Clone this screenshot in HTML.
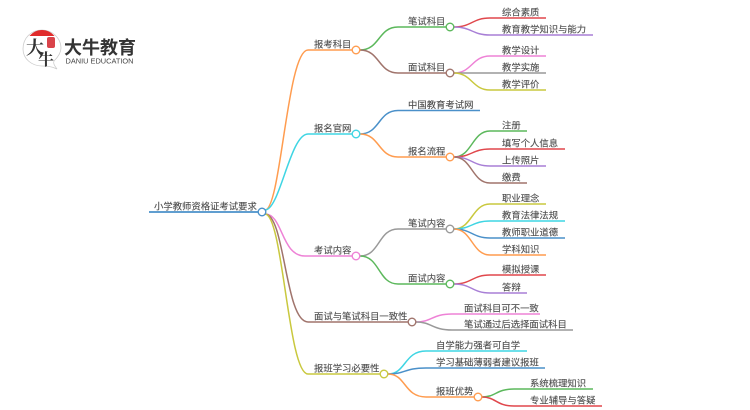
<!DOCTYPE html>
<html><head><meta charset="utf-8">
<style>
html,body{margin:0;padding:0;background:#fff;width:750px;height:410px;overflow:hidden}
svg{display:block}
text{font-family:"Liberation Sans","Noto Sans CJK SC",sans-serif;font-size:9.36px;fill:#4d4d4d;stroke:#4d4d4d;stroke-width:.12px}
path{fill:none;stroke-width:1.5}
circle{fill:#fff;stroke-width:1.4}
</style></head><body>
<svg width="750" height="410" viewBox="0 0 750 410" xmlns="http://www.w3.org/2000/svg">
<!-- logo -->
<path d="M42 30 C31 30 23 38 23 49 C23 59 32 66 42 66 C46 66 51 66 57 69 C54 65 53 63 54 61 C58 57 61 53 61 48 C61 38 52 30 42 30Z" style="stroke:#ccc;stroke-width:.8;fill:#fff"/>
<path d="M29.500 36 C33 32 37 30 42 30 C47 30 51 32 54.500 36Z" style="fill:#e02b2b;stroke:none"/>
<rect x="47" y="37" width="8" height="11" rx="2" fill="#d9434a"/>
<text x="26" y="54" style="font-family:'Noto Serif CJK SC',serif;font-size:18px;font-weight:700;fill:#333;stroke:none">大</text>
<text x="38" y="65" style="font-family:'Noto Serif CJK SC',serif;font-size:16px;font-weight:700;fill:#333;stroke:none">牛</text>
<text x="64" y="54" style="font-size:18px;font-weight:700;fill:#333;stroke:none">大牛教育</text>
<text x="65.500" y="63.500" style="font-size:7px;fill:#444;stroke:none" textLength="68" lengthAdjust="spacingAndGlyphs">DANIU EDUCATION</text>

<!-- root -->
<path d="M149 212 H258" stroke="#4a90c9" style="stroke-width:1.700"/>
<!-- level 1 -->
<path d="M265 210 C281 210 287 50 308 50 H352" stroke="#ff9c4f"/>
<path d="M265 210 C280 210 290 134 308 134 H352" stroke="#3fd5e3"/>
<path d="M265 214 C283 214 281 256 305 256 H352" stroke="#ee82d6"/>
<path d="M265 214 C285 214 285 322 308 322 H408" stroke="#a0746c"/>
<path d="M265 214 C283 214 288 374 308 374 H380" stroke="#c9c83e"/>
<!-- level 2 -->
<path d="M360 50 C380 50 378 27 398 27 H446" stroke="#5cb85c"/>
<path d="M360 50 C380 50 378 73 398 73 H446" stroke="#a0746c"/>
<path d="M360 134 C380 134 378 110.500 398 110.500 H480" stroke="#4a90c9"/>
<path d="M360 134 C380 134 378 157 398 157 H446" stroke="#ff9c4f"/>
<path d="M360 256 C380 256 378 229 398 229 H446" stroke="#999"/>
<path d="M360 256 C380 256 378 284 398 284 H446" stroke="#5cb85c"/>
<path d="M416 322 C432 322 432 314 452 314 H540" stroke="#ee82d6"/>
<path d="M416 322 C432 322 432 330 452 330 H573" stroke="#999"/>
<path d="M388 374 C406 374 404 351 426 351 H527" stroke="#3fd5e3"/>
<path d="M388 374 C406 374 404 368 426 368 H545" stroke="#4a90c9"/>
<path d="M388 374 C406 374 404 397 426 397 H474" stroke="#ff9c4f"/>
<!-- leaves -->
<path d="M454 27 C472 27 472 18 490 18 H546" stroke="#e0474c"/>
<path d="M454 27 C472 27 472 35 490 35 H593" stroke="#a87fd6"/>
<path d="M454 73 C472 73 472 56 490 56 H546" stroke="#ee82d6"/>
<path d="M454 73 H546" stroke="#999"/>
<path d="M454 73 C472 73 472 90 490 90 H546" stroke="#c9c83e"/>
<path d="M454 157 C472 157 472 131 490 131 H527" stroke="#5cb85c"/>
<path d="M454 157 C472 157 472 149 490 149 H565" stroke="#e0474c"/>
<path d="M454 157 C472 157 472 166 490 166 H546" stroke="#a87fd6"/>
<path d="M454 157 C472 157 472 183 490 183 H527" stroke="#a0746c"/>
<path d="M454 229 C472 229 472 204 490 204 H546" stroke="#c9c83e"/>
<path d="M454 229 C472 229 472 221 490 221 H565" stroke="#3fd5e3"/>
<path d="M454 229 C472 229 472 238 490 238 H565" stroke="#4a90c9"/>
<path d="M454 229 C472 229 472 255 490 255 H546" stroke="#ff9c4f"/>
<path d="M454 284 C472 284 472 275 490 275 H546" stroke="#e0474c"/>
<path d="M454 284 C472 284 472 293 490 293 H527" stroke="#a87fd6"/>
<path d="M482 397 C496 397 496 389 514 389 H593" stroke="#5cb85c"/>
<path d="M482 397 C496 397 496 406 514 406 H602" stroke="#e0474c"/>
<!-- nodes -->
<circle cx="262" cy="212" r="3.800" stroke="#4a90c9"/>
<circle cx="356" cy="50" r="3.800" stroke="#ff9c4f"/>
<circle cx="356" cy="134" r="3.800" stroke="#3fd5e3"/>
<circle cx="356" cy="256" r="3.800" stroke="#ee82d6"/>
<circle cx="412" cy="322" r="3.800" stroke="#a0746c"/>
<circle cx="384" cy="374" r="3.800" stroke="#c9c83e"/>
<circle cx="450" cy="27" r="3.800" stroke="#5cb85c"/>
<circle cx="450" cy="73" r="3.800" stroke="#a0746c"/>
<circle cx="450" cy="157" r="3.800" stroke="#ff9c4f"/>
<circle cx="450" cy="229" r="3.800" stroke="#999"/>
<circle cx="450" cy="284" r="3.800" stroke="#5cb85c"/>
<circle cx="478" cy="397" r="3.800" stroke="#ff9c4f"/>
<!-- labels -->
<g transform="translate(0,.5)">
<text x="154" y="209">小学教师资格证考试要求</text>
<text x="314" y="47">报考科目</text>
<text x="314" y="131">报名官网</text>
<text x="314" y="253">考试内容</text>
<text x="314" y="319">面试与笔试科目一致性</text>
<text x="314" y="371">报班学习必要性</text>
<text x="408" y="24">笔试科目</text>
<text x="408" y="70">面试科目</text>
<text x="408" y="107.500">中国教育考试网</text>
<text x="408" y="154">报名流程</text>
<text x="408" y="226">笔试内容</text>
<text x="408" y="281">面试内容</text>
<text x="464" y="311">面试科目可不一致</text>
<text x="464" y="327">笔试通过后选择面试科目</text>
<text x="436" y="348">自学能力强者可自学</text>
<text x="436" y="365">学习基础薄弱者建议报班</text>
<text x="436" y="394">报班优势</text>
<text x="502" y="15">综合素质</text>
<text x="502" y="32">教育教学知识与能力</text>
<text x="502" y="53">教学设计</text>
<text x="502" y="70">教学实施</text>
<text x="502" y="87">教学评价</text>
<text x="502" y="128">注册</text>
<text x="502" y="146">填写个人信息</text>
<text x="502" y="163">上传照片</text>
<text x="502" y="180">缴费</text>
<text x="502" y="201">职业理念</text>
<text x="502" y="218">教育法律法规</text>
<text x="502" y="235">教师职业道德</text>
<text x="502" y="252">学科知识</text>
<text x="502" y="272">模拟授课</text>
<text x="502" y="290">答辩</text>
<text x="530" y="386">系统梳理知识</text>
<text x="530" y="403">专业辅导与答疑</text>
</g>
</svg>
</body></html>
